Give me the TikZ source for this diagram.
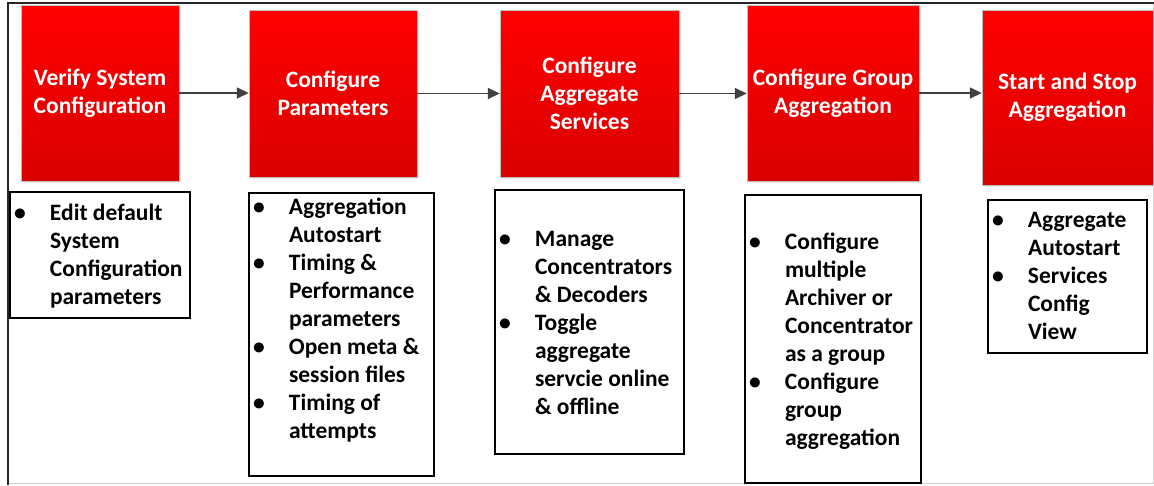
\documentclass[tikz,border=0pt]{standalone}
\usepackage{fontspec}
\setmainfont{Carlito}
\usetikzlibrary{arrows.meta,shadows}
\definecolor{stepred}{RGB}{255,0,0}
\definecolor{stepdark}{RGB}{218,0,0}
\definecolor{arrowgray}{RGB}{64,64,64}
\newcommand{\bitem}[1]{\par\hangindent=36pt\hangafter=1\noindent\makebox[36pt][l]{\textbullet}#1}
% height, width, top gap, items
\newcommand{\steplist}[4]{\parbox[c][#1][t]{#2}{\raggedright\vspace*{#3}#4}}

\begin{document}
\begin{tikzpicture}[x=1pt,y=-1pt,
  stepbox/.style={rectangle,top color=stepred,bottom color=stepdark,draw=gray!50,
    text=white,align=center,inner sep=0pt,
    font=\fontsize{23.5}{28}\selectfont\bfseries,
    drop shadow={shadow xshift=2pt,shadow yshift=-2pt,fill=gray!35}},
  listbox/.style={rectangle,draw=black,line width=1.2pt,fill=white,
    inner xsep=4pt,inner ysep=0pt,
    font=\fontsize{23.5}{28}\selectfont\bfseries},
  flow/.style={draw=arrowgray,line width=1.5pt,-{Triangle[length=12pt,width=11pt]}}]
  \useasboundingbox (0,0) rectangle (1154,485);
  % frame
  \draw[gray!35,line width=1pt] (1153.5,3) -- (1153.5,483.5) -- (8,483.5);
  \draw[black!85,line width=2.5pt] (1154,3) -- (8,3) -- (8,485);
  % steps
  \node[stepbox,minimum width=158,minimum height=176](verify) at (100,93){Verify System\\Configuration};
  \node[stepbox,minimum width=168,minimum height=167](params) at (333,93.5){Configure\\Parameters};
  \node[stepbox,minimum width=179,minimum height=167](services) at (589.5,93.5){Configure\\Aggregate\\Services};
  \node[stepbox,minimum width=172,minimum height=176](group) at (833,93){Configure Group\\Aggregation};
  \node[stepbox,minimum width=171,minimum height=175](startstop) at (1067.5,97.5){Start and Stop\\Aggregation};
  % arrows
  \draw[flow] (verify.east) -- (verify.east -| params.west);
  \draw[flow] (params.east) -- (params.east -| services.west);
  \draw[flow] (services.east) -- (services.east -| group.west);
  \draw[flow] (group.east) -- (group.east -| startstop.west);
  % lists
  \node[listbox](verifylist) at (100,255){\steplist{126pt}{172pt}{12pt}{%
    \bitem{Edit default\newline System\newline Configuration\newline parameters}}};
  \node[listbox](paramslist) at (341.5,334.5){\steplist{283pt}{177pt}{5pt}{%
    \bitem{Aggregation\newline Autostart}
    \bitem{Timing \&\newline Performance\newline parameters}
    \bitem{Open meta \&\newline session files}
    \bitem{Timing of\newline attempts}}};
  \node[listbox](serviceslist) at (589.5,322){\steplist{264pt}{181pt}{41pt}{%
    \bitem{Manage\newline Concentrators\newline \& Decoders}
    \bitem{Toggle\newline aggregate\newline servcie online\newline \& offline}}};
  \node[listbox](grouplist) at (833,339){\steplist{288pt}{168pt}{38pt}{%
    \bitem{Configure\newline multiple\newline Archiver or\newline Concentrator\newline as a group}
    \bitem{Configure\newline group\newline aggregation}}};
  \node[listbox](startstoplist) at (1067.5,276.5){\steplist{153pt}{151pt}{12pt}{%
    \bitem{Aggregate\newline Autostart}
    \bitem{Services\newline Config\newline View}}};
\end{tikzpicture}
\end{document}
